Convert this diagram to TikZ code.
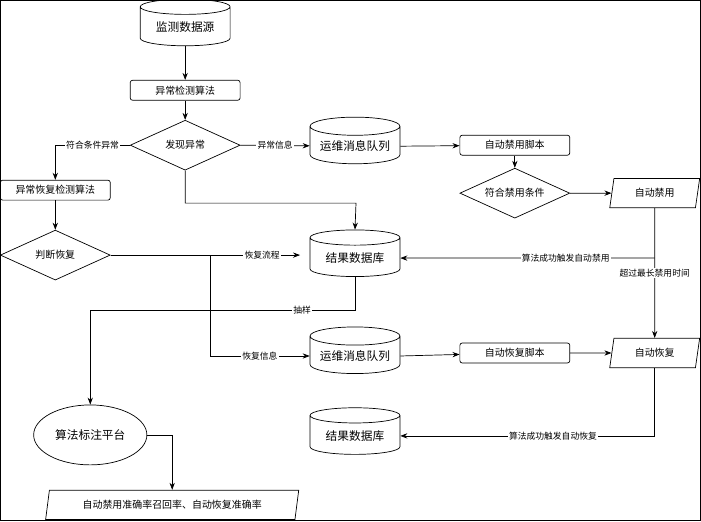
\documentclass[tikz,border=0pt]{standalone}
\usepackage{fontspec}
\setmainfont{Noto Sans CJK SC}
\usetikzlibrary{positioning}
\usetikzlibrary{shapes.geometric}
\usetikzlibrary{arrows.meta}
\tikzset{dbBox/.style={draw, cylinder, shape border rotate=90, aspect=0.25, minimum width=2.7cm, minimum height=1.4cm, font=\fontsize{10}{12}\selectfont, inner sep=1pt}}
\tikzset{stepBox/.style={draw, rounded corners=2pt, minimum width=3.3cm, minimum height=0.6cm, inner sep=1pt}}
\tikzset{choiceBox/.style={draw, diamond, aspect=2.2, minimum width=3.3cm, minimum height=1.5cm, inner sep=0pt}}
\tikzset{ioBox/.style={draw, trapezium, trapezium left angle=70, trapezium right angle=110, trapezium stretches body, minimum height=0.88cm, minimum width=2.7cm, inner sep=1pt}}
\tikzset{lineLabel/.style={fill=white, inner sep=1pt, font=\fontsize{7.5}{9}\selectfont}}
\tikzset{flow/.style={-{Stealth[length=6pt]}}}

\begin{document}
\begin{tikzpicture}[x=0.03cm, y=-0.03cm, font=\fontsize{8.5}{10}\selectfont, every path/.style={line width=0.6pt, draw=black}]
\useasboundingbox (0,0) rectangle (701,521);
\node[dbBox] (source) at (185,27) {监测数据源};
\node[stepBox] (detect) at (185,90) {异常检测算法};
\node[choiceBox] (found) at (185,145) {发现异常};
\node[stepBox] (recalg) at (55,190) {异常恢复检测算法};
\node[choiceBox] (judge) at (55,255) {判断恢复};
\node[dbBox] (mq1) at (355,146) {运维消息队列};
\node[dbBox] (db1) at (355,258) {结果数据库};
\node[dbBox] (mq2) at (355,356) {运维消息队列};
\node[dbBox] (db2) at (355,436) {结果数据库};
\node[stepBox] (banscript) at (515,145) {自动禁用脚本};
\node[choiceBox] (bancond) at (515,193) {符合禁用条件};
\node[ioBox] (ban) at (655,193) {自动禁用};
\node[stepBox] (recscript) at (515,353) {自动恢复脚本};
\node[ioBox] (rec) at (655,353) {自动恢复};
\node[draw, ellipse, minimum width=3.4cm, minimum height=1.8cm, font=\fontsize{10}{12}\selectfont] (label) at (90,435) {算法标注平台};
\node[ioBox, trapezium left angle=72, trapezium right angle=108, minimum width=7.6cm] (metric) at (172,505) {自动禁用准确率召回率、自动恢复准确率};
\coordinate (recend) at (300,255);

% main flow
\draw[flow] (source) -- (detect);
\draw[flow] (detect) -- (found);
\draw[flow] (found.west) -- node[lineLabel] {符合条件异常} (55,145) -- (recalg);
\draw[flow] (recalg) -- (judge);
\draw[flow] (found.east) -- node[lineLabel] {异常信息} (mq1);
\draw[flow] (found.south) |- (356,203) -- (db1.north);
\draw[flow] (judge.east) -- node[lineLabel, pos=0.8] {恢复流程} (recend);
\draw[flow] (210,255) |- node[lineLabel, pos=0.75] {恢复信息} (mq2.west);
\draw[flow] (db1.south) |- node[lineLabel, pos=0.6] {抽样} (90,310) -- (label.north);
\draw[flow] (label.east) -| (metric.north);
% right side
\draw[flow] (mq1.east) -- (banscript);
\draw[flow] (banscript) -- (bancond);
\draw[flow] (bancond.east) -- (ban);
\draw[flow] (ban.south) -- node[lineLabel, pos=0.5] {超过最长禁用时间} (rec.north);
\draw[flow] (655,258) -- node[lineLabel, pos=0.35] {算法成功触发自动禁用} (db1.east);
\draw[flow] (mq2.east) -- (recscript);
\draw[flow] (recscript) -- (rec);
\draw[flow] (rec.south) |- node[lineLabel, pos=0.7] {算法成功触发自动恢复} (db2.east);
\end{tikzpicture}
\end{document}
